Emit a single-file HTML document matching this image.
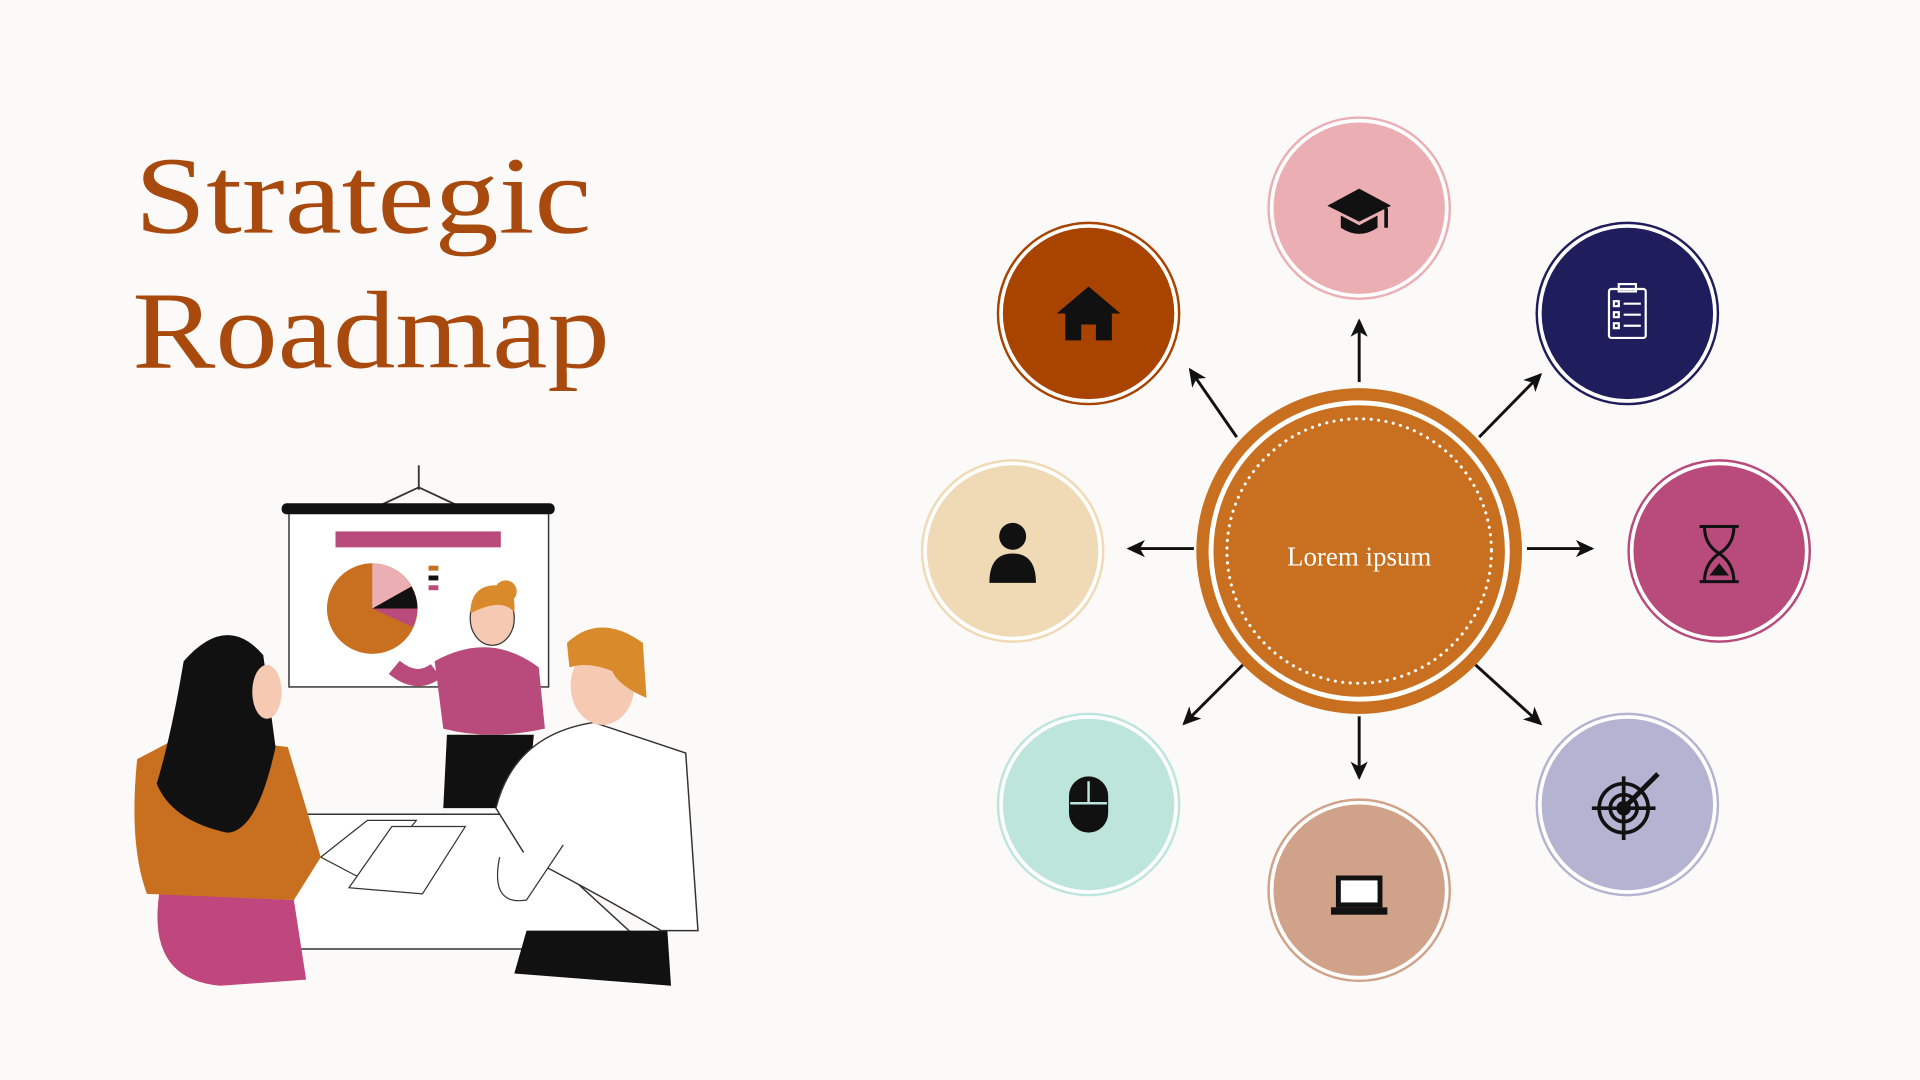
<!DOCTYPE html>
<html><head><meta charset="utf-8"><style>
html,body{margin:0;padding:0;background:#FCFAF8;}
svg{display:block}
</style></head><body>
<svg width="1920" height="1080" viewBox="0 0 1568 882" xmlns="http://www.w3.org/2000/svg">
<rect width="1568" height="882" fill="#FCFAF8"/>
<text x="110" y="190" font-family="Liberation Serif, serif" font-size="90" fill="#A84A0E" textLength="373" lengthAdjust="spacingAndGlyphs">Strategic</text>
<text x="108" y="300" font-family="Liberation Serif, serif" font-size="90" fill="#A84A0E" textLength="390" lengthAdjust="spacingAndGlyphs">Roadmap</text>

<g>
<line x1="342" y1="380" x2="342" y2="400" stroke="#333" stroke-width="1.5"/>
<path d="M312 412 L342 398 L372 412" fill="none" stroke="#333" stroke-width="1.5"/>
<rect x="236" y="415" width="212" height="146" fill="#fff" stroke="#333" stroke-width="1.2"/>
<rect x="230" y="411" width="223" height="9" rx="4" fill="#111"/>
<rect x="274" y="434" width="135" height="13" fill="#B84A7C"/>
<circle cx="304" cy="497" r="37" fill="#C8701F"/>
<path d="M304 497 L304 460 A37 37 0 0 1 336 479 Z" fill="#EBAFB3"/>
<path d="M304 497 L336 479 A37 37 0 0 1 341 497 Z" fill="#111"/>
<path d="M304 497 L341 497 A37 37 0 0 1 337 512 Z" fill="#B84A7C"/>
<rect x="350" y="462" width="8" height="4" fill="#C8701F"/><rect x="350" y="470" width="8" height="4" fill="#111"/><rect x="350" y="478" width="8" height="4" fill="#B84A7C"/>
<path d="M365 600 L362 660 L430 660 L436 600 Z" fill="#111"/>
<path d="M355 540 Q400 515 440 545 L445 595 Q400 605 362 595 Z" fill="#B84A7C"/>
<path d="M356 548 Q340 560 322 545" stroke="#B84A7C" stroke-width="14" fill="none"/>
<ellipse cx="402" cy="505" rx="18" ry="22" fill="#F6C9B3" stroke="#333"/>
<path d="M384 500 Q385 478 405 478 Q422 478 420 500 Q410 488 386 500 Z" fill="#D98A2B"/>
<circle cx="413" cy="483" r="9" fill="#D98A2B"/>
<path d="M175 665 L410 665 L530 775 L145 775 Z" fill="#fff" stroke="#333" stroke-width="1.2"/>
<path d="M262 700 L300 670 L340 670 L300 720 Z" fill="#fff" stroke="#333"/>
<path d="M285 725 L320 675 L380 675 L345 730 Z" fill="#fff" stroke="#333"/>
<path d="M130 730 Q120 800 180 805 L250 800 L240 735 Z" fill="#C0467E"/>
<path d="M112 620 L150 600 L235 610 L262 700 L240 735 L120 730 Q105 690 112 620 Z" fill="#C8701F"/>
<path d="M150 540 Q185 500 215 535 L225 610 Q210 680 185 680 Q140 670 128 640 Q140 600 150 540 Z" fill="#111"/>
<ellipse cx="218" cy="565" rx="12" ry="22" fill="#F6C9B3"/>
<path d="M430 760 L420 795 L548 805 L545 760 Z" fill="#111"/>
<path d="M405 660 Q420 600 485 590 L560 615 L570 760 L540 760 Q470 720 430 700 Z" fill="#fff" stroke="#333" stroke-width="1.2"/>
<path d="M408 700 Q400 740 430 735 L460 690" fill="#fff" stroke="#333"/>
<ellipse cx="492" cy="560" rx="26" ry="32" fill="#F6C9B3"/>
<path d="M463 525 Q490 500 525 525 L528 570 Q505 560 500 548 Q480 540 465 545 Z" fill="#D98A2B"/>
</g>

<defs><marker id="ah" markerWidth="16" markerHeight="14" refX="13" refY="7" orient="auto" markerUnits="userSpaceOnUse"><path d="M0 0 L15 7 L0 14 L4 7 Z" fill="#111"/></marker></defs>
<g stroke="#111" stroke-width="2.4" marker-end="url(#ah)">
<line x1="1110" y1="312" x2="1110" y2="262"/>
<line x1="975" y1="448" x2="922" y2="448"/>
<line x1="1247" y1="448" x2="1300" y2="448"/>
<line x1="1110" y1="585" x2="1110" y2="635"/>
<line x1="1010" y1="357" x2="972" y2="302"/>
<line x1="1208" y1="357" x2="1258" y2="306"/>
<line x1="1015" y1="543" x2="967" y2="591"/>
<line x1="1205" y1="543" x2="1258" y2="591"/>
</g>

<circle cx="1110" cy="450" r="133" fill="#C8701F"/>
<circle cx="1110" cy="450" r="121" fill="none" stroke="#fff" stroke-width="4"/>
<circle cx="1110" cy="450" r="108" fill="none" stroke="#fff" stroke-width="2.5" stroke-dasharray="0.1 6" stroke-linecap="round"/>
<text x="1110" y="462" text-anchor="middle" font-family="Liberation Serif, serif" font-size="22" fill="#fff">Lorem ipsum</text>

<g stroke-width="2">
<circle cx="1110" cy="170" r="74" fill="#fff" stroke="#EBAFB3"/><circle cx="1110" cy="170" r="70" fill="#EBAFB3"/>
<circle cx="889" cy="256" r="74" fill="#fff" stroke="#A84300"/><circle cx="889" cy="256" r="70" fill="#A84300"/>
<circle cx="1329" cy="256" r="74" fill="#fff" stroke="#1F1D5C"/><circle cx="1329" cy="256" r="70" fill="#1F1D5C"/>
<circle cx="827" cy="450" r="74" fill="#fff" stroke="#F0D9B5"/><circle cx="827" cy="450" r="70" fill="#F0D9B5"/>
<circle cx="1404" cy="450" r="74" fill="#fff" stroke="#B84A7C"/><circle cx="1404" cy="450" r="70" fill="#B84A7C"/>
<circle cx="889" cy="657" r="74" fill="#fff" stroke="#BDE5DC"/><circle cx="889" cy="657" r="70" fill="#BDE5DC"/>
<circle cx="1110" cy="727" r="74" fill="#fff" stroke="#D0A289"/><circle cx="1110" cy="727" r="70" fill="#D0A289"/>
<circle cx="1329" cy="657" r="74" fill="#fff" stroke="#B4B4D2"/><circle cx="1329" cy="657" r="70" fill="#B4B4D2"/>
</g>

<path d="M1084 168 L1110 154 L1136 168 L1110 181 Z" fill="#111"/>
<path d="M1095 176 L1095 186 Q1110 196 1125 186 L1125 176 L1110 184 Z" fill="#111"/>
<line x1="1132" y1="170" x2="1132" y2="186" stroke="#111" stroke-width="3"/>
<path d="M863 256 L889 234 L915 256 L908 256 L908 278 L895 278 L895 265 L883 265 L883 278 L870 278 L870 256 Z" fill="#111"/>
<g stroke="#fff" stroke-width="1.8" fill="none"><rect x="1314" y="236" width="30" height="40" rx="2"/><rect x="1322" y="232" width="14" height="6"/>
<rect x="1318" y="246" width="4" height="4"/><line x1="1326" y1="248" x2="1340" y2="248"/><rect x="1318" y="255" width="4" height="4"/><line x1="1326" y1="257" x2="1340" y2="257"/><rect x="1318" y="264" width="4" height="4"/><line x1="1326" y1="266" x2="1340" y2="266"/></g>
<circle cx="827" cy="438" r="11" fill="#111"/><path d="M808 476 Q808 452 827 452 Q846 452 846 476 Z" fill="#111"/>
<g stroke="#111" stroke-width="2.5" fill="none"><line x1="1388" y1="430" x2="1420" y2="430"/><line x1="1388" y1="475" x2="1420" y2="475"/><path d="M1392 430 Q1392 445 1404 452 Q1416 445 1416 430 M1392 475 Q1392 460 1404 452 Q1416 460 1416 475"/></g>
<path d="M1396 470 L1404 460 L1412 470 Z" fill="#111"/>
<rect x="873" y="634" width="32" height="46" rx="16" fill="#111"/><line x1="889" y1="638" x2="889" y2="656" stroke="#BDE5DC" stroke-width="2"/><line x1="874" y1="656" x2="904" y2="656" stroke="#BDE5DC" stroke-width="2"/>
<rect x="1093" y="717" width="34" height="22" fill="#fff" stroke="#111" stroke-width="4"/><rect x="1087" y="741" width="46" height="6" fill="#111"/>
<g stroke="#111" fill="none" stroke-width="3"><circle cx="1326" cy="660" r="20"/><circle cx="1326" cy="660" r="11"/><line x1="1326" y1="634" x2="1326" y2="686"/><line x1="1300" y1="660" x2="1352" y2="660"/></g>
<circle cx="1326" cy="660" r="6" fill="#111"/>
<line x1="1328" y1="658" x2="1354" y2="632" stroke="#111" stroke-width="4"/>
</svg>
</body></html>
